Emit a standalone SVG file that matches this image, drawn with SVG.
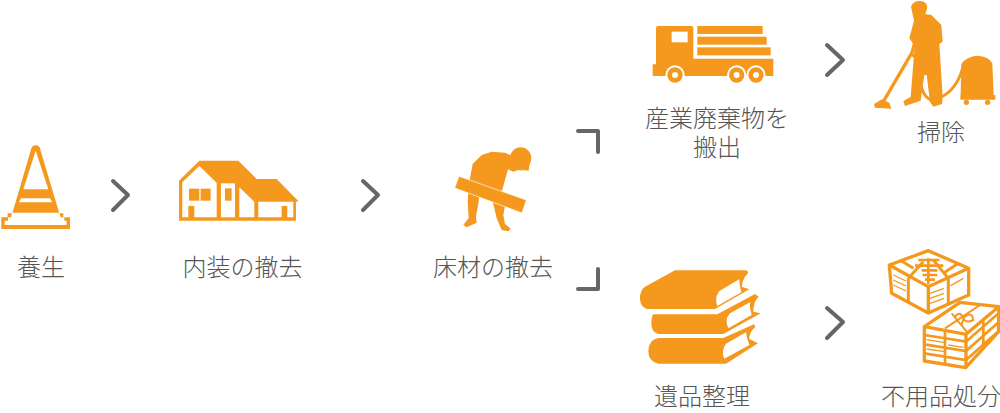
<svg xmlns="http://www.w3.org/2000/svg" width="1000" height="413" viewBox="0 0 1000 413">
<style>
text{font-family:"Noto Sans CJK JP","Noto Sans",sans-serif;font-size:24px;font-weight:300;fill:#555;text-anchor:middle}
.o{fill:#f4991e}.w{fill:#fff}
.s{fill:#fff;stroke:#f4991e;stroke-linejoin:round}
.l{fill:none;stroke:#f4991e}
.c{fill:none;stroke:#666;stroke-width:4;stroke-linecap:round;stroke-linejoin:round}
</style>
<rect width="1000" height="413" fill="#fff"/>
<g id="connectors">
<path class="c" d="M113 181L128 195L113 210"/>
<path class="c" d="M363 181L378 195L363 210"/>
<path class="c" d="M827 45L843 60L827 75"/>
<path class="c" d="M827 308L843 322L827 338"/>
<path class="c" d="M578 131H598V152"/>
<path class="c" d="M598 269V289H578"/>
</g>
<g id="cone">
<g transform="translate(0,130) scale(.3333)">
<path class="o" d="M37 250L92 62Q95 46 107 46Q119 46 122 62L178 250H190V262H210V297H4V262H23V250Z"/>
<path class="w" d="M107 62L145 178H70Z"/>
<path class="w" d="M63 205H150L157 217H57Z"/>
<path class="w" d="M36 248H178L182 262H193V272H200V285H14V272H24V262H33Z"/>
</g>
<text x="41" y="276">養生</text>
</g>
<g id="house">
<g transform="translate(0,130) scale(.3333)">
<path class="o" d="M537 152L598 92H715L770 147H830L895 213L888 216V272H537Z"/>
<path class="w" d="M547 157L598 108L650 158V262H583V228H565V262H547Z"/>
<rect class="o" x="567" y="176" width="31" height="36"/>
<rect class="o" x="602" y="176" width="30" height="36"/>
<rect class="w" x="663" y="160" width="42" height="102"/>
<rect class="o" x="675" y="175" width="20" height="37"/>
<path class="w" d="M718 172L763 215V262H718Z"/>
<path class="w" d="M775 215H880V262H862V228H845V262H775Z"/>
</g>
<text x="242.500" y="276">内装の撤去</text>
</g>
<g id="floor-removal">
<g transform="translate(420,120) scale(.3333)">
<path class="o" d="M148 185L158 132L185 105L215 95L255 98L272 106L285 120L310 152L295 150L280 155L264 148L244 220L148 205Z"/>
<circle class="o" cx="302" cy="114" r="32"/>
<path class="o" d="M300 125L330 125L326 152L308 150Z"/>
<path class="o" d="M146 200L180 210L176 245L168 290L170 308L140 322L130 314L146 295L143 245Z"/>
<path class="o" d="M212 225L258 240L250 285L255 312L272 326L265 334L245 330L230 295L222 260Z"/>
<path class="o" stroke="#fff" stroke-width="2" d="M117 169L319 240L306 279L104 204Z"/>
</g>
<text x="493" y="276">床材の撤去</text>
</g>
<g id="truck">
<g transform="translate(640,0) scale(.3333)">
<path class="o" d="M38 193H48V84Q48 78 54 78H154Q160 78 160 84V176H400V228H38Z"/>
<rect class="w" x="95" y="95" width="48" height="32"/>
<rect class="o" x="172" y="78" width="196" height="24"/>
<rect class="o" x="172" y="110" width="208" height="24"/>
<rect class="o" x="172" y="142" width="220" height="24"/>
<g id="wheels">
<circle class="w" cx="105" cy="225" r="29"/><circle class="o" cx="105" cy="225" r="23"/><circle class="w" cx="105" cy="225" r="9"/>
<circle class="w" cx="290" cy="225" r="29"/><circle class="o" cx="290" cy="225" r="23"/><circle class="w" cx="290" cy="225" r="9"/>
<circle class="w" cx="348" cy="225" r="29"/><circle class="o" cx="348" cy="225" r="23"/><circle class="w" cx="348" cy="225" r="9"/>
</g>
</g>
<text x="717"><tspan x="717" y="127">産業廃棄物を</tspan><tspan x="717" y="156">搬出</tspan></text>
</g>
<g id="cleaning">
<g transform="translate(870,0) scale(.3333)">
<path class="o" d="M123 20Q128 3 150 3Q172 4 172 24L166 42L184 45L214 75L218 125L208 132L218 290L216 312L190 320L180 306L170 225L163 225L152 302L105 318L100 304L122 290L130 190L134 138L118 115L132 62Z"/>
<path class="l" stroke-width="10" d="M134 128L126 158L40 305"/>
<path class="o" d="M12 312L36 298L58 308L64 326L15 323Z"/>
<path class="l" stroke-width="9" stroke-linecap="round" d="M128 165Q145 175 148 220Q152 285 180 298M215 290Q258 270 278 205"/>
<path class="o" d="M274 192Q290 169 322 167Q356 169 367 190L371 285H376V299H271V285H272Z"/>
<circle class="o" cx="289" cy="307" r="8"/><circle class="o" cx="353" cy="307" r="8"/>
</g>
<text x="941" y="141">掃除</text>
</g>
<g id="books">
<g transform="translate(630,245) scale(.3333)">
<path class="o" d="M135 76H348Q358 80 352 88Q340 95 335 125L358 133L255 192H50Q30 185 30 160Q30 135 45 125Z"/>
<path class="w" d="M328 103L268 138Q252 160 262 183L334 142Q328 122 328 103Z"/>
<path class="o" d="M70 208H262L375 147L386 155Q370 170 370 200L392 205L280 267H85Q65 262 64 238Q64 215 70 208Z"/>
<path class="w" d="M360 172L300 205Q282 225 295 250L365 210Q358 190 360 172Z"/>
<path class="o" d="M85 279H280L372 238L376 246Q358 260 358 282L384 295L288 356H85Q55 350 55 318Q55 285 85 279Z"/>
<path class="w" d="M348 262L288 296Q272 318 283 341L358 300Q350 280 348 262Z"/>
</g>
<text x="702" y="405">遺品整理</text>
</g>
<g id="discarded-goods">
<g transform="translate(880,245) scale(.3333)">
<g id="box-upper">
<path class="s" stroke-width="10" d="M28 60L145 17L266 70V150L145 204L35 145Z"/>
<path class="l" stroke-width="10" d="M28 60L145 125L266 70M145 125V204"/>
<path class="l" stroke-width="9" d="M85 100V168M205 100V178M85 100L130 50M205 100L160 45M60 45L100 70M190 85L235 55"/>
<path class="l" stroke-width="8" d="M115 45H178M105 62H190M125 76H172M128 90H172M135 104H165M145 40V118"/>
<path class="l" stroke-width="4" d="M40 90L78 108M40 105L78 123M40 120L78 138M150 145L192 130M150 160L192 145M150 175L192 160M212 122L250 100"/>
</g>
<g id="box-lower">
<path class="s" stroke-width="10" d="M133 245L240 172L356 185V260L257 368L133 348Z"/>
<path class="l" stroke-width="10" d="M133 245L258 268L356 185M258 268V368"/>
<path class="l" stroke-width="8" d="M133 270L258 290L356 205M133 298L258 318L356 232M133 325L258 345L356 258M195 258V355M310 225V305"/>
<path class="l" stroke-width="6" d="M195 250L300 180M215 205L262 262M225 215Q240 195 250 220Q275 195 280 225Q260 235 250 222L245 240"/>
<path class="l" stroke-width="4" d="M140 284L195 293M140 312L195 320M205 300L250 307"/>
</g>
</g>
<text x="941" y="405">不用品処分</text>
</g>
</svg>
